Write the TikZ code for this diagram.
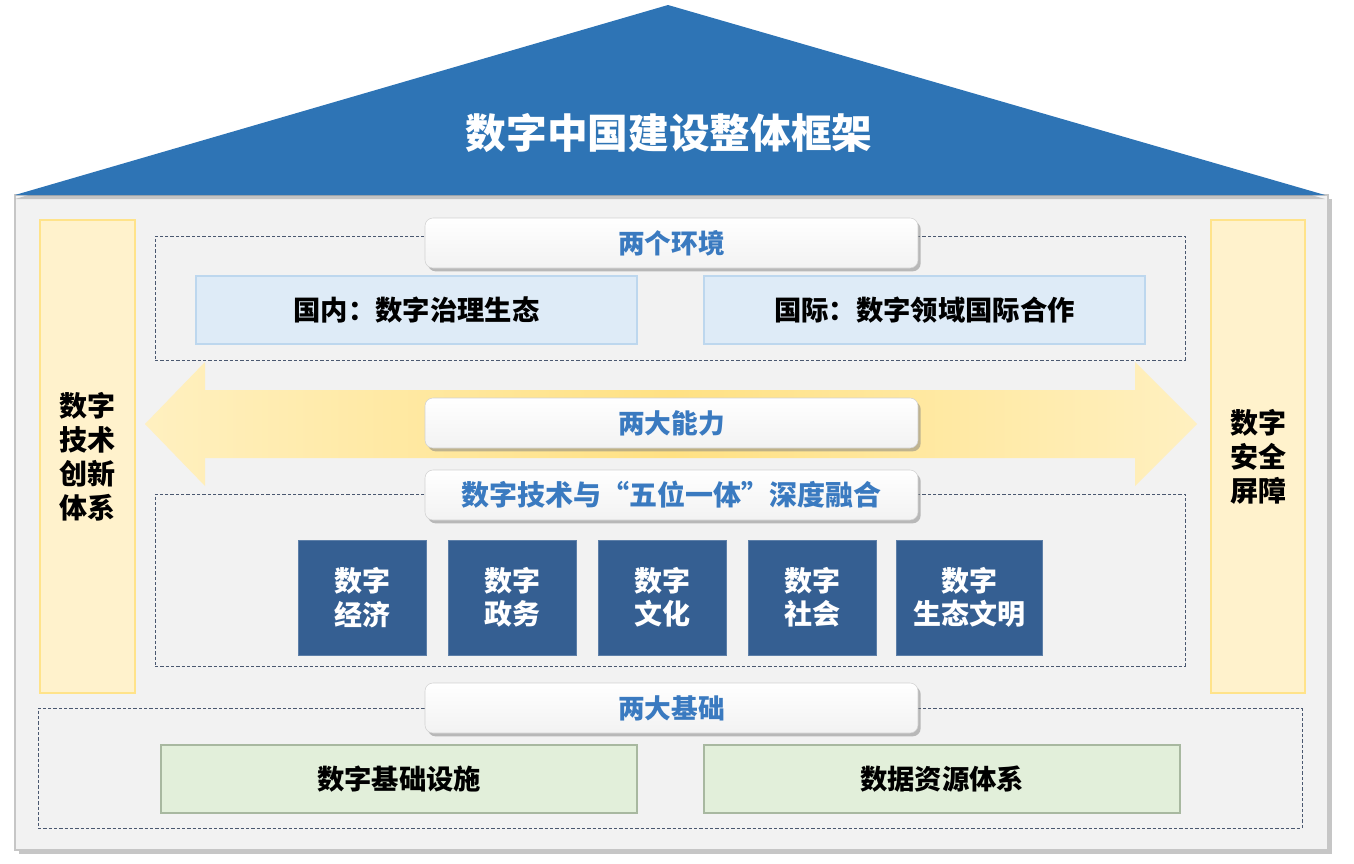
\documentclass[tikz,border=0pt]{standalone}
\usepackage{fontspec}
\setmainfont{Noto Sans CJK SC}
\usetikzlibrary{shadows}
\definecolor{roofblue}{HTML}{2E74B5}
\definecolor{bodygray}{HTML}{F2F2F2}
\definecolor{colfill}{HTML}{FFF2CC}
\definecolor{colline}{HTML}{FFE38A}
\definecolor{envfill}{HTML}{DEEBF7}
\definecolor{envline}{HTML}{BDD7EE}
\definecolor{grnfill}{HTML}{E2EFDA}
\definecolor{grnline}{HTML}{A8B8A0}
\definecolor{darkbox}{HTML}{355F92}
\definecolor{lbltext}{HTML}{3A7AC0}
\definecolor{dashc}{HTML}{4A5870}
\definecolor{arrmid}{HTML}{FFE183}
\definecolor{arrside}{HTML}{FFF0C0}
\newlength\pxu
\setlength\pxu{0.75pt}
\begin{document}
\begin{tikzpicture}[x=0.75pt,y=-0.75pt,
  boxbase/.style={anchor=north west,inner sep=0pt,outer sep=0pt,align=center},
  bodybox/.style={boxbase,fill=bodygray,draw=gray!45,line width=0.8pt,
    drop shadow={shadow xshift=3pt,shadow yshift=-3pt,opacity=0.45}},
  colbox/.style={boxbase,fill=colfill,draw=colline,line width=0.8pt,
    font=\fontsize{21}{25.5}\selectfont\bfseries},
  dashbox/.style={boxbase,draw=dashc,line width=0.6pt,dash pattern=on 2.5pt off 1.5pt},
  lblbox/.style={boxbase,draw=gray!35,rounded corners=6pt,top color=white,bottom color=gray!10,
    drop shadow={shadow xshift=2pt,shadow yshift=-2.5pt,opacity=0.5},
    text=lbltext,font=\fontsize{20}{24}\selectfont\bfseries,
    minimum width=493\pxu,minimum height=50\pxu},
  envbox/.style={boxbase,fill=envfill,draw=envline,line width=0.8pt,
    font=\fontsize{20.5}{24}\selectfont\bfseries,minimum width=441\pxu,minimum height=68\pxu},
  grnbox/.style={boxbase,fill=grnfill,draw=grnline,line width=0.8pt,
    font=\fontsize{20.5}{24}\selectfont\bfseries,minimum width=476\pxu,minimum height=68\pxu},
  dkbox/.style={boxbase,fill=darkbox,draw=darkbox!80,line width=0.6pt,text=white,
    font=\fontsize{21}{25}\selectfont\bfseries,minimum height=115\pxu}
]
\useasboundingbox (0,0) rectangle (1354,864);
% house body
\node[bodybox,minimum width=1313\pxu,minimum height=655\pxu] (body) at (15,195) {};
% roof
\fill[roofblue,drop shadow={shadow xshift=0pt,shadow yshift=-3pt,opacity=0.4}]
  (668,5) -- (1325,195) -- (15,195) -- cycle;
\node[text=white,font=\fontsize{30.5}{34}\selectfont\bfseries] (title) at (669,133) {数字中国建设整体框架};
% side columns
\node[colbox,minimum width=95\pxu,minimum height=473\pxu] (leftcol) at (40,220) {};
\node[font=\fontsize{21}{25.5}\selectfont\bfseries,align=center] (lefttxt) at (leftcol.center) {数字\\技术\\创新\\体系};
\node[colbox,minimum width=94\pxu,minimum height=473\pxu] (rightcol) at (1211,220) {};
\node[font=\fontsize{21}{25.5}\selectfont\bfseries,align=center] (righttxt) at (rightcol.center) {数字\\安全\\屏障};
% dashed groups
\node[dashbox,minimum width=1030\pxu,minimum height=124\pxu] (envgrp) at (155,236) {};
\node[dashbox,minimum width=1030\pxu,minimum height=172\pxu] (fusegrp) at (155,494) {};
\node[dashbox,minimum width=1264\pxu,minimum height=120\pxu] (basegrp) at (38,708) {};
% double arrow
\path[left color=arrside,right color=arrside,middle color=arrmid]
  (145,424) -- (205,362) -- (205,390) -- (1135,390) -- (1135,362) -- (1197,424)
  -- (1135,486) -- (1135,458) -- (205,458) -- (205,486) -- cycle;
% environment
\node[envbox] (dom) at (196,276) {国内：数字治理生态};
\node[envbox] (intl) at (704,276) {国际：数字领域国际合作};
% label boxes
\node[lblbox] (envlbl) at (425,218) {两个环境};
\node[lblbox] (ablbl) at (425,398) {两大能力};
\node[lblbox,font=\fontsize{21}{24}\selectfont\bfseries] (fuselbl) at (425,470) {数字技术与“五位一体”深度融合};
\node[lblbox] (baselbl) at (425,683) {两大基础};
% five dark boxes
\node[dkbox,minimum width=128\pxu] (econ) at (298,540) {数字\\经济};
\node[dkbox,minimum width=128\pxu] (gov) at (448,540) {数字\\政务};
\node[dkbox,minimum width=128\pxu] (cult) at (598,540) {数字\\文化};
\node[dkbox,minimum width=128\pxu] (soc) at (748,540) {数字\\社会};
\node[dkbox,minimum width=146\pxu] (eco) at (896,540) {数字\\生态文明};
% foundations
\node[grnbox] (infra) at (161,745) {数字基础设施};
\node[grnbox] (data) at (704,745) {数据资源体系};
\end{tikzpicture}
\end{document}
